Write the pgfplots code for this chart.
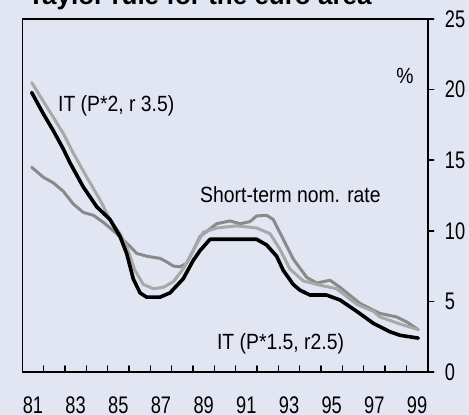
\documentclass[border=0pt]{standalone}
\usepackage{pgfplots}
\usepackage{pgfplotstable}
\pgfplotsset{compat=1.18}
\usepackage{fontspec}
\setmainfont{Liberation Sans}
\newfontfamily\narrowfont{Liberation Sans}[FakeStretch=0.88]
\newfontfamily\tickfont{Liberation Sans}[FakeStretch=0.76]
\definecolor{bgc}{RGB}{225,230,242}
\definecolor{lgray}{RGB}{168,168,168}
\definecolor{mgray}{RGB}{138,138,138}

\pgfplotstableread{
x y
81.44 19.8
81.98 18.3
82.45 17.1
82.92 15.8
83.24 14.8
83.86 13.1
84.49 11.7
85.11 10.8
85.58 9.6
85.89 8.4
86.20 6.6
86.52 5.6
86.83 5.3
87.45 5.3
87.92 5.6
88.54 6.6
89.01 7.9
89.33 8.6
89.80 9.4
91.98 9.4
92.45 9.0
92.92 8.2
93.23 7.2
93.70 6.2
94.01 5.8
94.48 5.45
95.26 5.45
95.89 5.1
96.67 4.3
97.45 3.45
98.23 2.85
98.70 2.6
99.56 2.4
}\itlow

\pgfplotstableread{
x y
81.44 20.5
82.14 18.8
82.92 16.9
83.39 15.5
84.02 13.8
84.64 12.2
85.11 10.8
85.58 9.8
85.89 8.9
86.28 7.2
86.67 6.2
87.14 5.9
87.61 6.0
88.08 6.4
88.54 7.3
89.01 8.6
89.48 9.9
90.11 10.2
91.05 10.35
91.98 10.2
92.61 9.8
93.07 8.7
93.54 7.3
94.17 6.45
94.95 6.15
95.73 5.9
96.67 4.8
97.45 4.3
97.76 3.9
98.70 3.4
99.56 3.0
}\ithigh

\pgfplotstableread{
x y
81.44 14.5
81.98 13.8
82.45 13.4
82.92 12.8
83.39 11.9
83.86 11.3
84.33 11.1
84.80 10.6
85.42 9.8
86.05 8.9
86.36 8.4
86.83 8.2
87.45 8.05
87.77 7.8
88.08 7.5
88.39 7.45
88.70 7.7
89.01 8.6
89.33 9.6
90.11 10.5
90.73 10.7
91.20 10.5
91.67 10.65
91.98 11.05
92.45 11.1
92.76 10.8
93.23 9.4
93.70 8.0
94.33 6.7
94.80 6.3
95.42 6.5
95.89 6.0
96.83 4.85
97.76 4.15
98.54 3.9
99.01 3.55
99.56 3.0
}\shortrate

\begin{document}
\begin{tikzpicture}
\fill[bgc] (-22.3pt,-43pt) rectangle (446.7pt,372pt);
\begin{axis}[
  at={(0,0)}, anchor=south west,
  scale only axis, width=405.4pt, height=353pt,
  xmin=81, xmax=100, ymin=0, ymax=25,
  axis line style={line width=1.6pt},
  every tick/.style={black, line width=1.5pt},
  major tick length=6pt, minor tick length=6pt,
  xtick={81.5,83.5,...,99.5},
  xticklabels={81,83,85,87,89,91,93,95,97,99},
  minor xtick={81,82,...,100},
  major x tick style={draw=none},
  xtick pos=bottom,
  xtick align=inside,
  ytick={0,5,10,15,20,25},
  ytick pos=right, yticklabel pos=right,
  ytick align=outside,
  /pgf/number format/assume math mode=true,
  xticklabel style={font=\tickfont\fontsize{24}{24}\selectfont, anchor=base, inner sep=0pt, yshift=-42pt},
  yticklabel style={font=\tickfont\fontsize{24}{24}\selectfont, anchor=west, inner sep=0pt, xshift=11pt},
  line join=round, line cap=round,
]
\addplot[mgray, line width=3pt] table {\shortrate};
\addplot[lgray, line width=3pt] table {\ithigh};
\addplot[black, line width=3.6pt] table {\itlow};
\node[anchor=west, inner sep=0pt, font=\narrowfont\fontsize{22}{22}\selectfont] at (axis cs:82.67,18.87) {IT (P*2, r 3.5)};
\node[anchor=west, inner sep=0pt, font=\narrowfont\fontsize{22}{22}\selectfont] at (axis cs:89.33,12.54) {Short-term nom. rate};
\node[anchor=west, inner sep=0pt, font=\narrowfont\fontsize{22}{22}\selectfont] at (axis cs:90.12,2.02) {IT (P*1.5, r2.5)};
\node[inner sep=0pt, font=\narrowfont\fontsize{22}{22}\selectfont] at (axis cs:98.93,21.0) {\%};
\end{axis}
\node[anchor=base west, inner sep=0pt, font=\bfseries\fontsize{26}{26}\selectfont] at (5.7pt,367pt) {Taylor rule for the euro area};
\pgfresetboundingbox
\path[use as bounding box] (-22.3pt,-43pt) rectangle (446.7pt,372pt);
\end{tikzpicture}
\end{document}
